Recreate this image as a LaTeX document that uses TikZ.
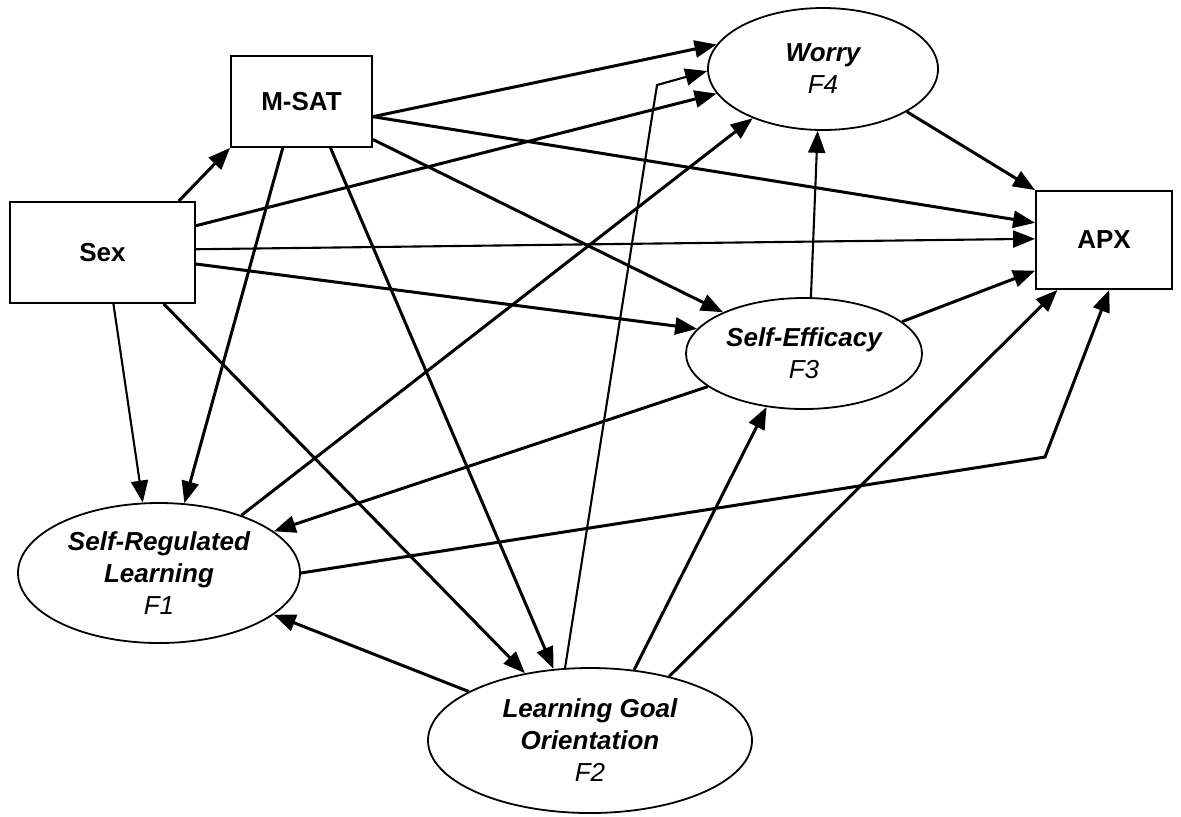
\documentclass[tikz,border=0pt]{standalone}
\usepackage{fontspec}
\setmainfont{Liberation Sans}
\usetikzlibrary{shapes.geometric,arrows.meta}
\begin{document}
\begin{tikzpicture}[x=0.5pt,y=-0.5pt,
  box/.style={draw,line width=0.9pt,rectangle,inner sep=0pt,
    font=\bfseries\fontsize{13}{16}\selectfont},
  factor/.style={draw,line width=0.9pt,ellipse,inner sep=0pt,align=center,
    font=\fontsize{13}{16}\selectfont},
  link/.style={line width=1.5pt,-{Triangle[length=11pt,width=8.5pt]}},
  thinlink/.style={line width=1.05pt,-{Triangle[length=11pt,width=8.5pt]}},
]
\useasboundingbox (0,0) rectangle (1181,816);

% observed variables
\node[box,minimum width=70.5pt,minimum height=45.5pt] (msat) at (301.5,101.5) {M-SAT};
\node[box,minimum width=92.5pt,minimum height=50.5pt] (sex) at (102.5,252.5) {Sex};
\node[box,minimum width=68pt,minimum height=49pt] (apx) at (1104,240) {APX};

% latent factors
\node[factor,minimum width=115pt,minimum height=61pt] (worry) at (823,69)
  {\bfseries\itshape Worry\\\itshape F4};
\node[factor,minimum width=118pt,minimum height=55.5pt] (se) at (804,353.5)
  {\bfseries\itshape Self-Efficacy\\\itshape F3};
\node[factor,minimum width=141pt,minimum height=70pt] (srl) at (159,573)
  {\bfseries\itshape Self-Regulated\\\bfseries\itshape Learning\\\itshape F1};
\node[factor,minimum width=162pt,minimum height=72.5pt] (lgo) at (590,740.5)
  {\bfseries\itshape Learning Goal\\\bfseries\itshape Orientation\\\itshape F2};

% bend points of the two routed paths
\coordinate (bendW) at (657,85);
\coordinate (bendA) at (1045,457);

% paths from Sex
\draw[link] (sex.34.9) -- (msat.south west);
\draw[link] (sex.16) -- (worry.193.9);
\draw[thinlink] (sex.2.8) -- (apx.179.2);
\draw[link] (sex.-7.7) -- (se.167.7);
\draw[thinlink] (sex.-78.3) -- (srl.103.7);
\draw[link] (sex.-40.8) -- (lgo.134.4);

% paths from M-SAT
\draw[link] (msat.-12.4) -- (worry.167.7);
\draw[link] (msat.-12.4) -- (apx.166.8);
\draw[link] (msat.-28.6) -- (se.153.2);
\draw[link] (msat.-112.1) -- (srl.70.3);
\draw[link] (msat.-58.9) -- (lgo.117.3);

% paths from Self-Regulated Learning
\draw[link] (srl.35.5) -- (worry.-145.4);
\draw[link] (srl.0) -- (bendA) -- (apx.-84.2);

% paths from Self-Efficacy
\draw[link] (se.-161.7) -- (srl.20.1);
\draw[thinlink] (se.83.9) -- (worry.-95.5);
\draw[link] (se.18.9) -- (apx.204.5);

% path from Worry
\draw[link] (worry.-27.9) -- (apx.north west);

% paths from Learning Goal Orientation
\draw[link] (lgo.158.9) -- (srl.-20.1);
\draw[thinlink] (lgo.109.3) -- (bendW) -- (worry.181);
\draw[link] (lgo.58.5) -- (se.-125.8);
\draw[link] (lgo.39.9) -- (apx.-133.2);
\end{tikzpicture}
\end{document}
